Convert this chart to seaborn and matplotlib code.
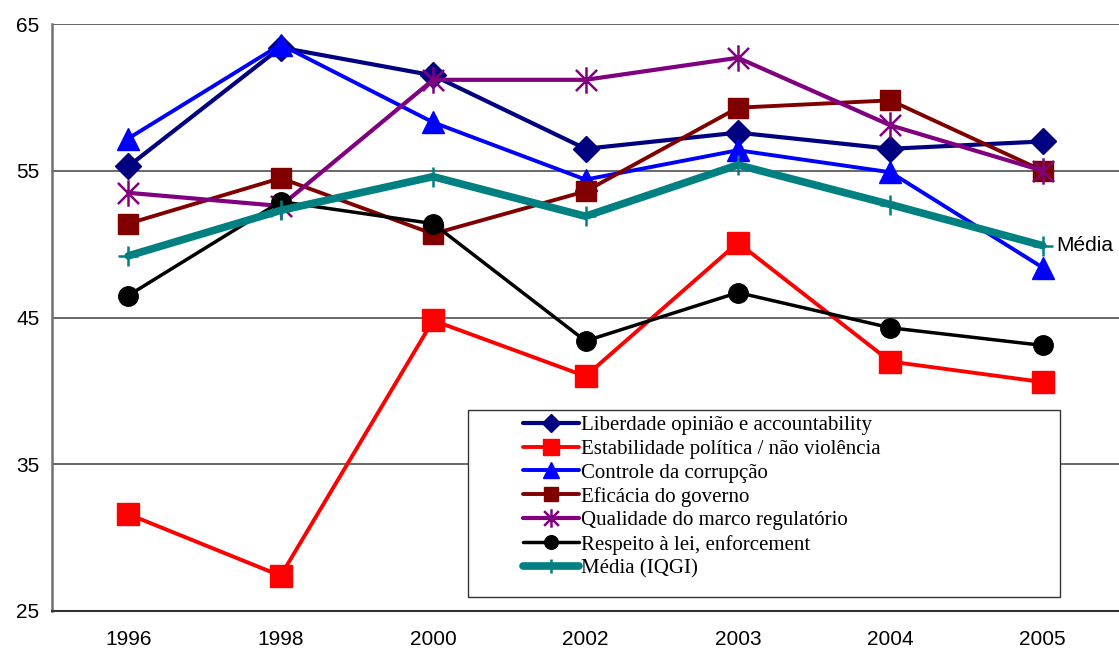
import numpy as np
import pandas as pd
import matplotlib
matplotlib.use("Agg")
import matplotlib.pyplot as plt
import seaborn as sns
from matplotlib.patches import Rectangle
from matplotlib.path import Path

# Data
years = ["1996", "1998", "2000", "2002", "2003", "2004", "2005"]
liberdade = [55.3, 63.4, 61.5, 56.5, 57.6, 56.5, 57.0]
estabilidade = [31.6, 27.4, 44.8, 41.0, 50.1, 42.0, 40.6]
controle = [57.2, 63.6, 58.3, 54.4, 56.4, 54.9, 48.4]
eficacia = [51.4, 54.5, 50.7, 53.6, 59.3, 59.8, 55.0]
qualidade = [53.5, 52.6, 61.2, 61.2, 62.7, 58.1, 55.0]
respeito = [46.5, 52.9, 51.4, 43.4, 46.7, 44.3, 43.1]
media = [49.2, 52.3, 54.6, 51.9, 55.4, 52.7, 49.9]

series_names = [
    "Liberdade opinião e accountability",
    "Estabilidade política / não violência",
    "Controle da corrupção",
    "Eficácia do governo",
    "Qualidade do marco regulatório",
    "Respeito à lei, enforcement",
    "Média (IQGI)",
]
series_values = [liberdade, estabilidade, controle, eficacia, qualidade, respeito, media]

# excel-like star marker: an X with a vertical bar
star = Path([(-1, -1), (1, 1), (-1, 1), (1, -1), (0, -1.25), (0, 1.25)],
            [Path.MOVETO, Path.LINETO, Path.MOVETO, Path.LINETO, Path.MOVETO, Path.LINETO])

# styles
colors = ["#000080", "#FF0000", "#0000FF", "#800000", "#800080", "#000000", "#008080"]
markers = ["D", "s", "^", "s", star, "o", "+"]
msizes = [13, 16, 16, 15, 19, 14, 15]
lwidths = [3, 2.8, 2.8, 2.8, 3, 2.5, 5.5]
mews = [1, 1, 1, 1, 1.8, 1, 1.8]

rows = []
for name, vals in zip(series_names, series_values):
    for y, v in zip(years, vals):
        rows.append({"Ano": y, "Valor": v, "Serie": name})
df = pd.DataFrame(rows)

sns.set_style("white")
plt.rcParams["font.family"] = ["Liberation Sans", "DejaVu Sans"]
plt.rcParams["text.color"] = "black"
plt.rcParams["xtick.color"] = "black"
plt.rcParams["ytick.color"] = "black"

fig = plt.figure(figsize=(11.19, 6.5), dpi=100)
ax = fig.add_axes([0.0465, 0.06, 0.9535, 0.903])

for i, name in enumerate(series_names):
    sub = df[df["Serie"] == name]
    sns.lineplot(data=sub, x="Ano", y="Valor", ax=ax, color=colors[i],
                 linewidth=lwidths[i], marker=markers[i], markersize=msizes[i],
                 markeredgecolor=colors[i], markeredgewidth=mews[i],
                 label=name, sort=False, zorder=3 + i)

ax.set_ylim(25, 65)
ax.set_yticks(np.arange(25, 66, 10))
ax.set_xlim(-0.5, len(years) - 0.5)
ax.set_xlabel("")
ax.set_ylabel("")
ax.yaxis.grid(True, color="#404040", linewidth=1.1)
ax.set_axisbelow(True)

ax.set_xticks(np.arange(-0.5, len(years), 1), minor=True)
ax.tick_params(axis="x", which="major", length=0, labelsize=15, pad=14)
ax.tick_params(axis="x", which="minor", length=6, width=1.2, color="#333333", direction="out")
ax.tick_params(axis="y", length=6, width=1.2, color="#333333", direction="out", labelsize=15, pad=3)

for s in ["top", "right"]:
    ax.spines[s].set_visible(False)
ax.spines["left"].set_color("#707070")
ax.spines["left"].set_linewidth(1.8)
ax.spines["bottom"].set_color("#333333")
ax.spines["bottom"].set_linewidth(1.5)

# label next to last media point
ax.annotate("Média", xy=(len(years) - 1, media[-1]), xytext=(10, 0),
            textcoords="offset points", va="center", ha="left", fontsize=15)

# legend box
ax.add_patch(Rectangle((0.390, 0.024), 0.555, 0.318, transform=ax.transAxes,
                       facecolor="white", edgecolor="#333333", linewidth=1, zorder=20))
leg = ax.legend(loc="upper left", bbox_to_anchor=(0.441, 0.333), frameon=False,
                prop={"family": ["Liberation Serif"], "size": 15},
                handlelength=2.7, handletextpad=0.1, labelspacing=0.2,
                markerscale=0.7, borderaxespad=0, borderpad=0)
leg.set_zorder(21)

fig.savefig("out.png", dpi=100)
